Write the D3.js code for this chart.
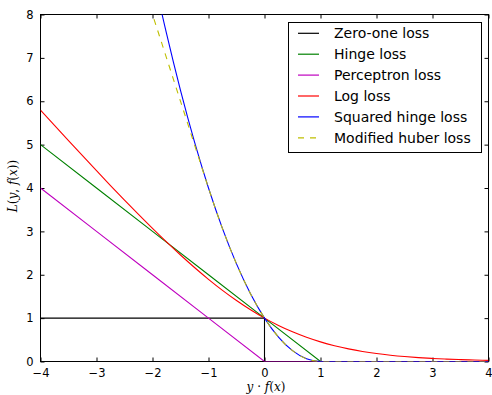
<!DOCTYPE html>
<html><head><meta charset="utf-8">
<script src="https://cdn.jsdelivr.net/npm/d3@7"></script>
<style>body{margin:0;background:#fff}svg{display:block}</style>
</head><body>
<script>
// ---- data ----
const xTicks = [-4, -3, -2, -1, 0, 1, 2, 3, 4];
const yTicks = [0, 1, 2, 3, 4, 5, 6, 7, 8];
const seriesNames = ["Zero-one loss", "Hinge loss", "Perceptron loss", "Log loss", "Squared hinge loss", "Modified huber loss"];

const zeroOneX = [-4, 0, 0, 4];
const zeroOneY = [1, 1, 0, 0];

const linX = [-4, -3, -2, -1, 0, 1, 2, 3, 4];
const hingeY = [5, 4, 3, 2, 1, 0, 0, 0, 0];
const perceptronY = [4, 3, 2, 1, 0, 0, 0, 0, 0];

const logX = [-4, -3.75, -3.5, -3.25, -3, -2.75, -2.5, -2.25, -2, -1.75, -1.5, -1.25, -1, -0.75, -0.5, -0.25, 0,
  0.25, 0.5, 0.75, 1, 1.25, 1.5, 1.75, 2, 2.25, 2.5, 2.75, 3, 3.25, 3.5, 3.75, 4];
const logY = [5.797, 5.444, 5.093, 4.744, 4.398, 4.057, 3.721, 3.391, 3.069, 2.756, 2.455, 2.167, 1.895, 1.640, 1.405, 1.192, 1,
  0.831, 0.684, 0.558, 0.452, 0.364, 0.291, 0.231, 0.183, 0.145, 0.114, 0.089, 0.070, 0.055, 0.043, 0.034, 0.026];

const sqX = [-2.5, -2.25, -2, -1.75, -1.5, -1.25, -1, -0.75, -0.5, -0.25, 0, 0.25, 0.5, 0.75, 1, 2, 3, 4];
const sqHingeY = [12.25, 10.5625, 9, 7.5625, 6.25, 5.0625, 4, 3.0625, 2.25, 1.5625, 1, 0.5625, 0.25, 0.0625, 0, 0, 0, 0];
const modHuberY = [10, 9, 8, 7, 6, 5, 4, 3.0625, 2.25, 1.5625, 1, 0.5625, 0.25, 0.0625, 0, 0, 0, 0];

const colors = ["#000000", "#008000", "#bf00bf", "#ff0000", "#0000ff", "#bfbf00"];

// ---- layout ----
const W = 492, H = 395;
const L = 40.5, R = 488.5, T = 14.5, B = 361.5;
const svg = d3.select("body").append("svg").attr("width", W).attr("height", H)
  .style("font-family", "'DejaVu Sans', sans-serif");

const x = d3.scaleLinear().domain([-4, 4]).range([L, R]);
const y = d3.scaleLinear().domain([0, 8]).range([B, T]);

svg.append("defs").append("clipPath").attr("id", "clip")
  .append("rect").attr("x", L).attr("y", T).attr("width", R - L).attr("height", B - T);

// frame
svg.append("rect").attr("x", L).attr("y", T).attr("width", R - L).attr("height", B - T)
  .attr("fill", "none").attr("stroke", "#000").attr("stroke-width", 1);

// axes with inward ticks
const fmt = d => d < 0 ? "\u2212" + Math.abs(d) : String(d);
const ax = (g) => { g.select(".domain").remove(); g.selectAll("line").attr("stroke", "#000"); };
svg.append("g").attr("transform", `translate(0,${B})`)
  .call(d3.axisBottom(x).tickValues(xTicks).tickSize(-4).tickPadding(7).tickFormat(fmt))
  .call(ax).selectAll("text").attr("font-size", 11.5).attr("fill", "#000").attr("font-family", "'DejaVu Sans', sans-serif");
svg.append("g").attr("transform", `translate(0,${T})`)
  .call(d3.axisTop(x).tickValues(xTicks).tickSize(-4).tickFormat(""))
  .call(ax);
svg.append("g").attr("transform", `translate(${L},0)`)
  .call(d3.axisLeft(y).tickValues(yTicks).tickSize(-4).tickPadding(7).tickFormat(fmt))
  .call(ax).selectAll("text").attr("font-size", 11.5).attr("fill", "#000").attr("font-family", "'DejaVu Sans', sans-serif");
svg.append("g").attr("transform", `translate(${R},0)`)
  .call(d3.axisRight(y).tickValues(yTicks).tickSize(-4).tickFormat(""))
  .call(ax);

// lines
const plot = svg.append("g").attr("clip-path", "url(#clip)");
const lineLin = d3.line().x(d => x(d[0])).y(d => y(d[1]));
const lineSmooth = d3.line().x(d => x(d[0])).y(d => y(d[1])).curve(d3.curveMonotoneX);
const zip = (a, b) => a.map((v, i) => [v, b[i]]);

const series = [
  { pts: zip(zeroOneX, zeroOneY), gen: lineLin },
  { pts: zip(linX, hingeY), gen: lineLin },
  { pts: zip(linX, perceptronY), gen: lineLin },
  { pts: zip(logX, logY), gen: lineSmooth },
  { pts: zip(sqX, sqHingeY), gen: lineSmooth },
  { pts: zip(sqX, modHuberY), gen: lineSmooth, dash: "6,6" },
];
series.forEach((s, i) => {
  plot.append("path").attr("d", s.gen(s.pts)).attr("fill", "none")
    .attr("stroke", colors[i]).attr("stroke-width", 1.1)
    .attr("stroke-dasharray", s.dash || null);
});

// legend
const lg = svg.append("g");
lg.append("rect").attr("x", 288.5).attr("y", 22.5).attr("width", 193).attr("height", 130)
  .attr("fill", "#fff").attr("stroke", "#000").attr("stroke-width", 1);
seriesNames.forEach((n, i) => {
  const yy = 33.3 + i * 20.9;
  lg.append("line").attr("x1", 298).attr("x2", 319).attr("y1", yy).attr("y2", yy)
    .attr("stroke", colors[i]).attr("stroke-width", 1.2)
    .attr("stroke-dasharray", i === 5 ? "6,6" : null);
  lg.append("text").attr("x", 334).attr("y", yy).attr("dy", "0.36em")
    .attr("font-size", 14).attr("fill", "#000").text(n);
});

// axis labels (math-style)
const serif = "'DejaVu Serif', 'Liberation Serif', serif";
const xl = svg.append("text").attr("x", 266).attr("y", 391).attr("text-anchor", "middle")
  .attr("font-size", 12).attr("font-family", serif).attr("fill", "#000");
xl.append("tspan").attr("font-style", "italic").text("y");
xl.append("tspan").text(" \u00b7 ");
xl.append("tspan").attr("font-style", "italic").text("f");
xl.append("tspan").text("(");
xl.append("tspan").attr("font-style", "italic").text("x");
xl.append("tspan").text(")");

const yl = svg.append("text").attr("transform", `translate(17,186) rotate(-90)`)
  .attr("text-anchor", "middle").attr("font-size", 12).attr("font-family", serif).attr("fill", "#000");
yl.append("tspan").attr("font-style", "italic").text("L");
yl.append("tspan").text("(");
yl.append("tspan").attr("font-style", "italic").text("y");
yl.append("tspan").text(", ");
yl.append("tspan").attr("font-style", "italic").text("f");
yl.append("tspan").text("(");
yl.append("tspan").attr("font-style", "italic").text("x");
yl.append("tspan").text("))");
</script>
</body></html>
